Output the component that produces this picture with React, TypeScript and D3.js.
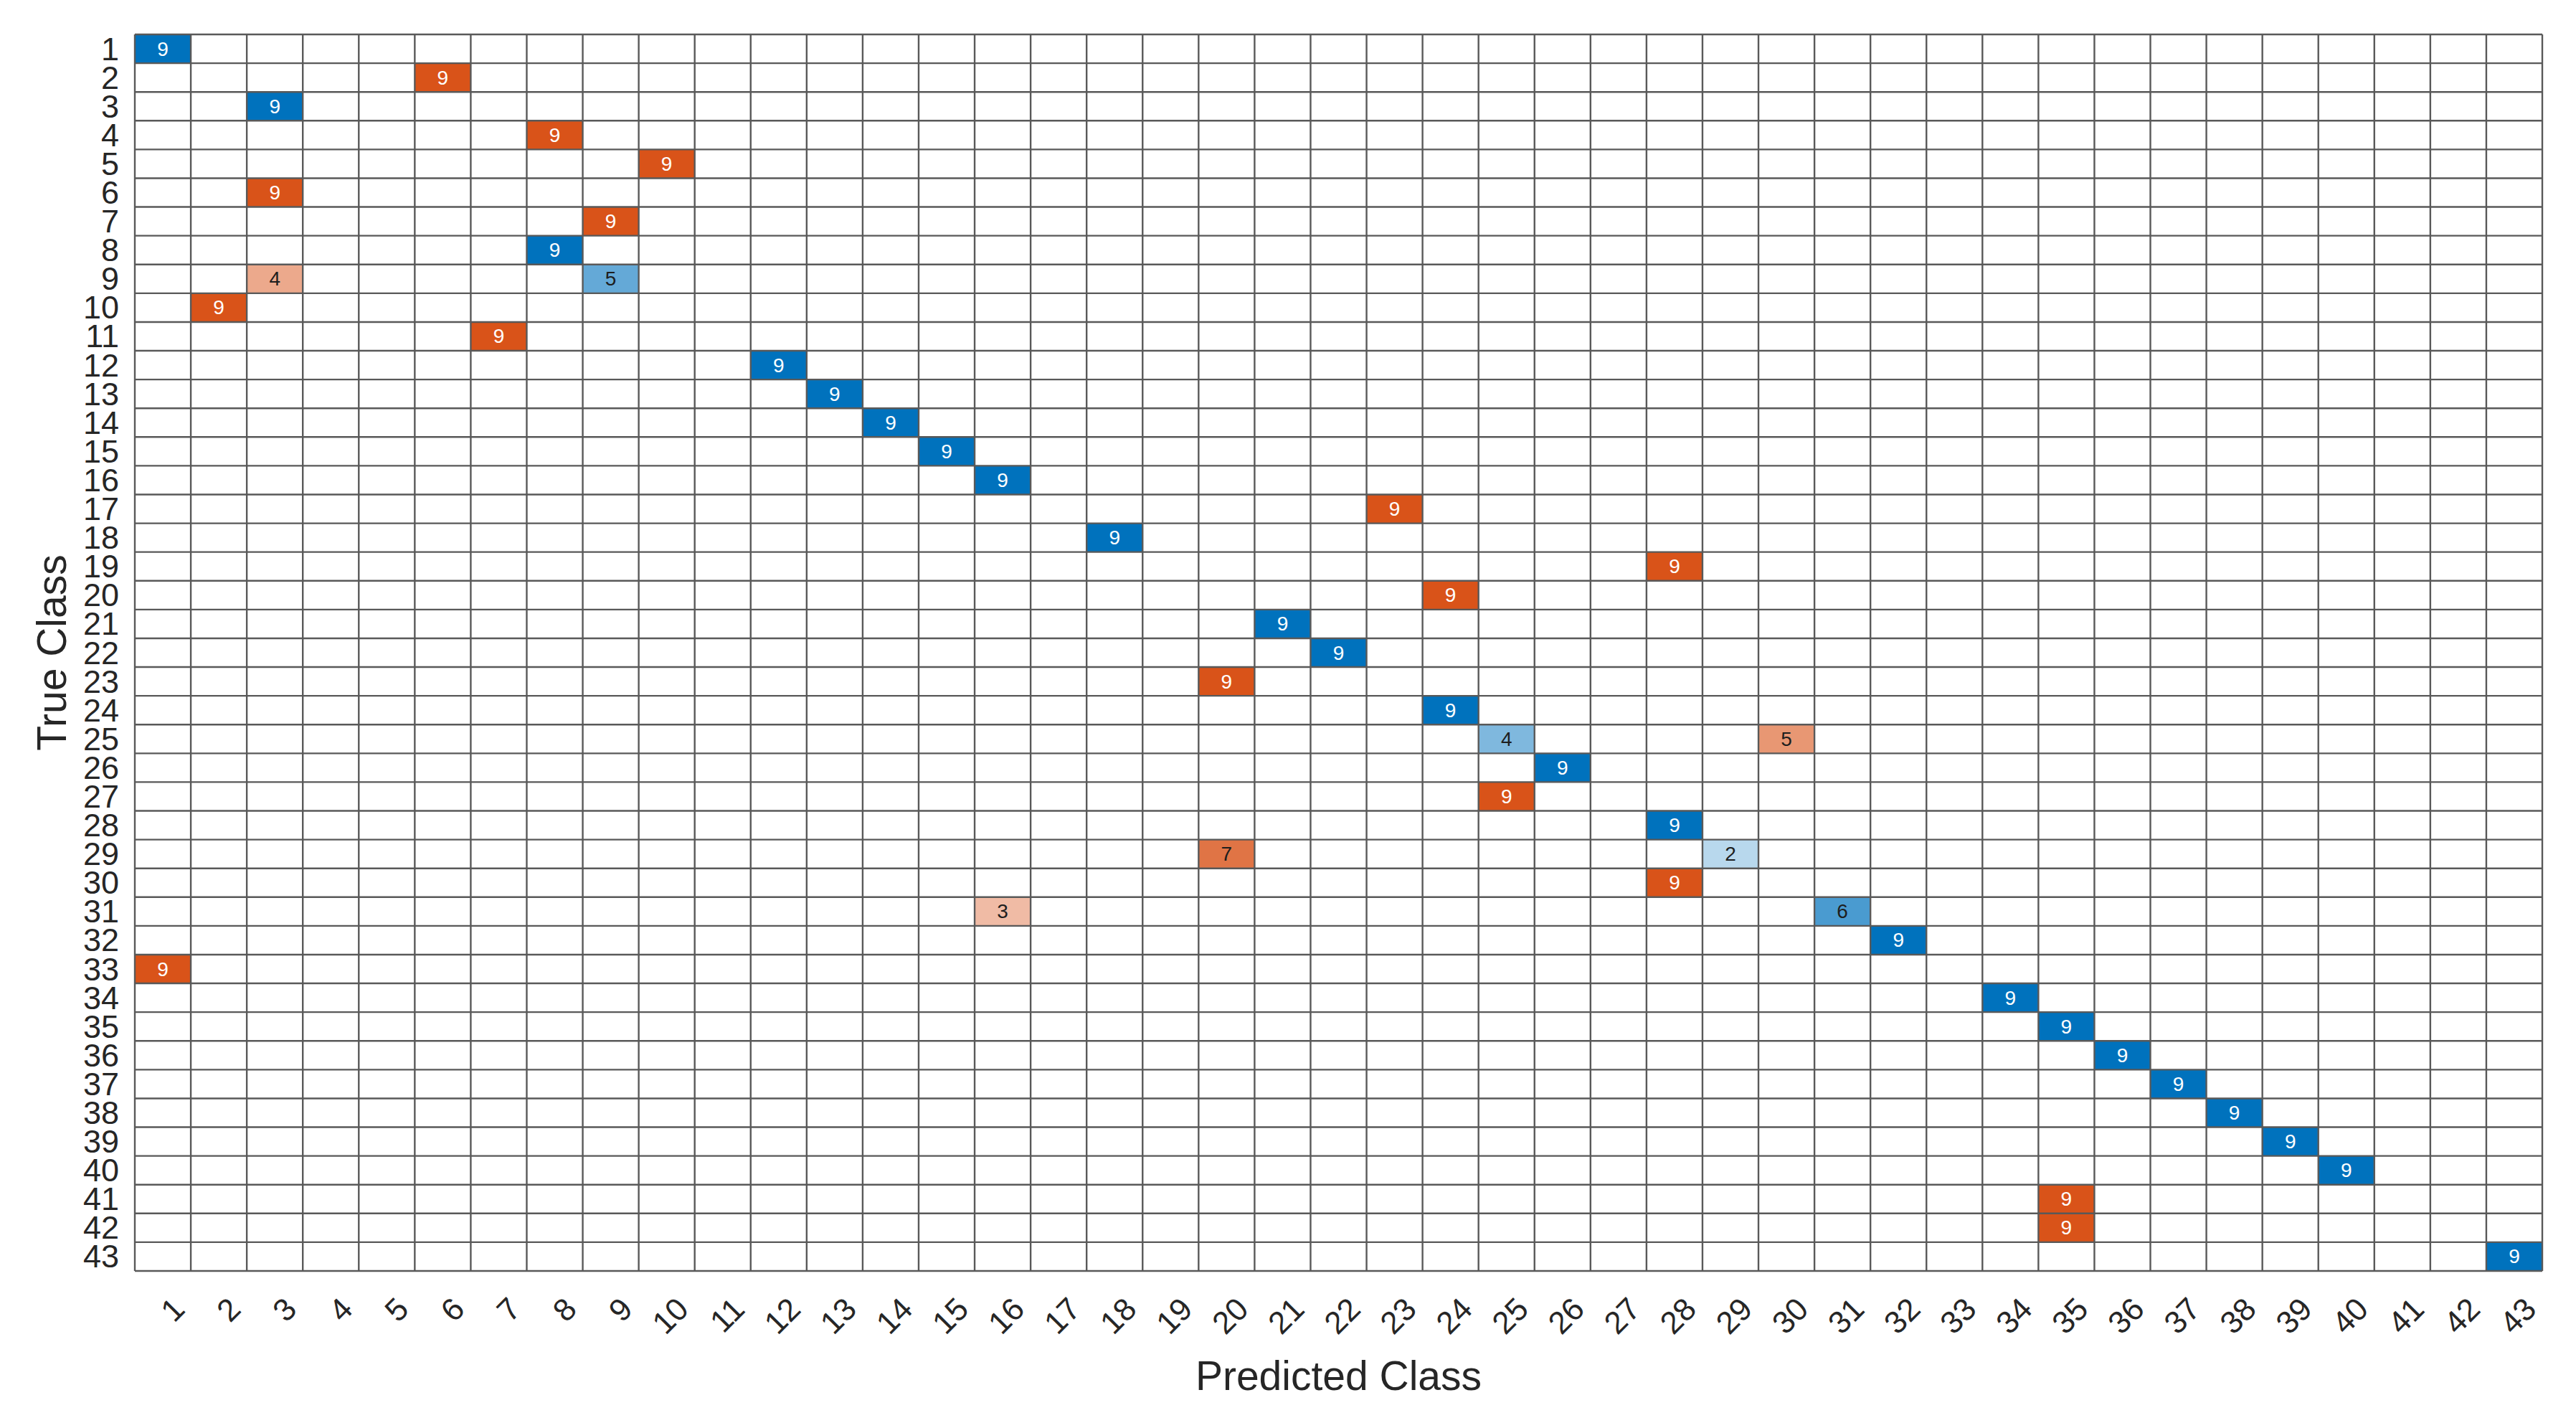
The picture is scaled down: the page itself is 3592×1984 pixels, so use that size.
import React from "react";
import * as d3 from "d3";

const classLabels = [
  "1", "2", "3", "4", "5", "6", "7", "8", "9", "10",
  "11", "12", "13", "14", "15", "16", "17", "18", "19", "20",
  "21", "22", "23", "24", "25", "26", "27", "28", "29", "30",
  "31", "32", "33", "34", "35", "36", "37", "38", "39", "40",
  "41", "42", "43",
];

// Non-zero cells of the confusion matrix
const cellTrue = [
  1, 2, 3, 4, 5, 6, 7, 8, 9, 9, 10, 11, 12, 13, 14, 15, 16, 17, 18, 19, 20,
  21, 22, 23, 24, 25, 25, 26, 27, 28, 29, 29, 30, 31, 31, 32, 33, 34, 35, 36,
  37, 38, 39, 40, 41, 42, 43,
];
const cellPred = [
  1, 6, 3, 8, 10, 3, 9, 8, 3, 9, 2, 7, 12, 13, 14, 15, 16, 23, 18, 28, 24,
  21, 22, 20, 24, 25, 30, 26, 25, 28, 20, 29, 28, 16, 31, 32, 1, 34, 35, 36,
  37, 38, 39, 40, 35, 35, 43,
];
const cellCount = [
  9, 9, 9, 9, 9, 9, 9, 9, 4, 5, 9, 9, 9, 9, 9, 9, 9, 9, 9, 9, 9,
  9, 9, 9, 9, 4, 5, 9, 9, 9, 7, 2, 9, 3, 6, 9, 9, 9, 9, 9,
  9, 9, 9, 9, 9, 9, 9,
];

const xTitle = "Predicted Class";
const yTitle = "True Class";

const W = 3592;
const H = 1984;
const left = 188;
const right = 3545;
const top = 48;
const bottom = 1772;

const diagColor = "#0072BD";
const offColor = "#D95319";
const font = "'Liberation Sans', Arial, Helvetica, sans-serif";

export default function App() {
  const x = d3.scaleBand<string>().domain(classLabels).range([left, right]);
  const y = d3.scaleBand<string>().domain(classLabels).range([top, bottom]);
  const maxVal = d3.max(cellCount) as number;
  const cells = cellTrue.map((t, i) => ({
    t: String(t),
    p: String(cellPred[i]),
    v: cellCount[i],
  }));
  const colorFor = (c: { t: string; p: string; v: number }) => {
    const base = c.t === c.p ? diagColor : offColor;
    const k = Math.pow(c.v / maxVal, 0.85);
    return d3.interpolateRgb("#ffffff", base)(k);
  };
  const bw = x.bandwidth();
  const bh = y.bandwidth();

  return (
    <svg
      width={W}
      height={H}
      style={{ position: "absolute", left: 0, top: 0, background: "#fff" }}
      fontFamily={font}
    >
      <rect x={0} y={0} width={W} height={H} fill="#fff" />
      {/* cells */}
      {cells.map((c, i) => (
        <rect
          key={"c" + i}
          x={x(c.p)}
          y={y(c.t)}
          width={bw}
          height={bh}
          fill={colorFor(c)}
        />
      ))}
      {/* grid */}
      <g stroke="#595959" strokeWidth={2.4} fill="none">
        {classLabels.map((l, i) => (
          <line key={"v" + i} x1={x(l)} x2={x(l)} y1={top} y2={bottom} />
        ))}
        <line x1={right} x2={right} y1={top} y2={bottom} />
        {classLabels.map((l, i) => (
          <line key={"h" + i} x1={left} x2={right} y1={y(l)} y2={y(l)} />
        ))}
        <line x1={left} x2={right} y1={bottom} y2={bottom} />
      </g>
      {/* cell values */}
      {cells.map((c, i) => (
        <text
          key={"t" + i}
          x={(x(c.p) as number) + bw / 2}
          y={(y(c.t) as number) + bh / 2}
          textAnchor="middle"
          dominantBaseline="central"
          fontSize={28}
          fill={c.v / maxVal > 0.85 ? "#ffffff" : "#1e1e1e"}
        >
          {c.v}
        </text>
      ))}
      {/* y tick labels */}
      {classLabels.map((l, i) => (
        <text
          key={"yl" + i}
          x={166}
          y={(y(l) as number) + bh / 2}
          textAnchor="end"
          dominantBaseline="central"
          fontSize={45}
          fill="#262626"
        >
          {l}
        </text>
      ))}
      {/* x tick labels */}
      {classLabels.map((l, i) => {
        const px = (x(l) as number) + bw / 2 + 33;
        const py = 1828;
        return (
          <text
            key={"xl" + i}
            transform={`translate(${px},${py}) rotate(-45)`}
            textAnchor="end"
            fontSize={44}
            fill="#262626"
          >
            {l}
          </text>
        );
      })}
      {/* axis titles */}
      <text
        x={(left + right) / 2}
        y={1938}
        textAnchor="middle"
        fontSize={57}
        fill="#262626"
      >
        {xTitle}
      </text>
      <text
        transform={`translate(92,${(top + bottom) / 2}) rotate(-90)`}
        textAnchor="middle"
        fontSize={57}
        fill="#262626"
      >
        {yTitle}
      </text>
    </svg>
  );
}
